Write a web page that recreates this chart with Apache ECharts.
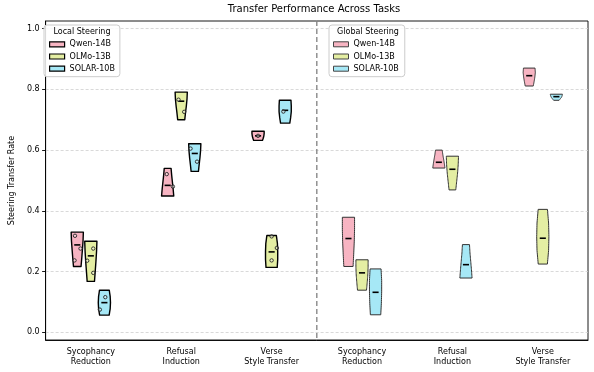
<!DOCTYPE html>
<html>
<head>
<meta charset="utf-8">
<script src="https://cdn.jsdelivr.net/npm/echarts@6/dist/echarts.min.js"></script>
<style>html,body{margin:0;padding:0;background:#fff}#c{width:594px;height:372px}</style>
</head>
<body>
<div id="c"></div>
<script>
// ---------------- DATA ----------------
const chartTitle = 'Transfer Performance Across Tasks';
const yAxisName = 'Steering Transfer Rate';
const categoryKeys = ['L-syc', 'L-ref', 'L-verse', 'G-syc', 'G-ref', 'G-verse'];
const categoryLabels = ['Sycophancy\nReduction', 'Refusal\nInduction', 'Verse\nStyle Transfer',
                        'Sycophancy\nReduction', 'Refusal\nInduction', 'Verse\nStyle Transfer'];
const yTicks = [0.0, 0.2, 0.4, 0.6, 0.8, 1.0];
const models = ['Qwen-14B', 'OLMo-13B', 'SOLAR-10B'];
const localLegendTitle = 'Local Steering';
const globalLegendTitle = 'Global Steering';

// Local steering (per model, per task: Sycophancy, Refusal, Verse)
const localMin    = [[0.217, 0.449, 0.632], [0.168, 0.700, 0.214], [0.057, 0.530, 0.689]];
const localMax    = [[0.330, 0.540, 0.662], [0.300, 0.791, 0.319], [0.139, 0.621, 0.764]];
const localMedian = [[0.288, 0.484, 0.647], [0.252, 0.761, 0.265], [0.098, 0.589, 0.731]];
// relative density (bottom -> top)
const localDensity = [
  [[0.62, 0.74, 0.85, 0.95, 1.0], [1.0, 0.9, 0.78, 0.66, 0.56], [0.72, 0.86, 0.95, 1.0, 1.0]],
  [[0.6, 0.72, 0.84, 0.94, 1.0], [0.58, 0.7, 0.84, 0.95, 1.0], [0.92, 1.0, 1.0, 0.95, 0.78]],
  [[0.78, 0.95, 1.0, 0.95, 0.8], [0.6, 0.72, 0.85, 0.95, 1.0], [0.76, 0.9, 1.0, 1.0, 0.95]]
];
// observed seed points (local only)
const localPoints = [
  [[0.318, 0.276, 0.237], [0.521, 0.480], [0.647]],
  [[0.276, 0.236, 0.196], [0.766, 0.726], [0.316, 0.278, 0.237]],
  [[0.116, 0.075], [0.605, 0.562], [0.727]]
];
const localPointJitter = [
  [[-0.025, 0.036, -0.03], [-0.01, 0.058], [0.0]],
  [[0.027, -0.04, 0.027], [-0.03, 0.033], [0.0, 0.058, 0.0]],
  [[0.01, -0.05], [-0.047, 0.025], [-0.02]]
];

// Global steering
const globalMin    = [[0.217, 0.541, 0.811], [0.139, 0.469, 0.225], [0.058, 0.179, 0.764]];
const globalMax    = [[0.379, 0.600, 0.870], [0.239, 0.580, 0.405], [0.209, 0.289, 0.784]];
const globalMedian = [[0.309, 0.560, 0.845], [0.196, 0.537, 0.310], [0.132, 0.223, 0.776]];
const globalDensity = [
  [[0.76, 0.86, 0.95, 1.0, 1.0], [1.0, 0.9, 0.78, 0.65, 0.55], [0.66, 0.8, 0.92, 1.0, 0.95]],
  [[0.74, 0.85, 0.95, 1.0, 1.0], [0.55, 0.7, 0.85, 0.95, 1.0], [0.75, 0.95, 1.0, 0.95, 0.76]],
  [[0.85, 0.95, 1.0, 1.0, 0.9], [1.0, 0.9, 0.78, 0.66, 0.58], [0.45, 0.65, 0.85, 0.95, 1.0]]
];

// ---------------- STYLE ----------------
const FONT = 'DejaVu Sans';
const colors = ['#F7B4C2', '#E4EEA3', '#A6E8F6'];
const modelOffset = [-0.15, 0, 0.15];
const violinWidth = 0.135;

function interp(profile, t) {
  const n = profile.length - 1;
  const p = t * n;
  const i = Math.min(Math.floor(p), n - 1);
  const f = p - i;
  return profile[i] * (1 - f) + profile[i + 1] * f;
}

function violinRender(density, edgeColor, edgeWidth, mi) {
  return function (params, api) {
    const cat = api.value(0), lo = api.value(1), hi = api.value(2), med = api.value(3), ti = api.value(4);
    const band = api.size([1, 0])[0];
    const cx = api.coord([cat, 0])[0] + modelOffset[mi] * band;
    const halfMax = violinWidth / 2 * band;
    const prof = density[mi][ti];
    const M = 24, left = [], right = [];
    for (let j = 0; j <= M; j++) {
      const t = j / M;
      const y = api.coord([cat, lo + (hi - lo) * t])[1];
      const w = interp(prof, t) * halfMax;
      left.push([cx - w, y]);
      right.push([cx + w, y]);
    }
    const pts = left.concat(right.reverse());
    const my = api.coord([cat, med])[1];
    const ml = violinWidth * 0.25 * band;
    return {
      type: 'group',
      children: [
        { type: 'polygon', shape: { points: pts },
          style: { fill: colors[mi], stroke: edgeColor, lineWidth: edgeWidth, lineJoin: 'round' } },
        { type: 'line', shape: { x1: cx - ml, y1: my, x2: cx + ml, y2: my },
          style: { stroke: '#000', lineWidth: 1.6 } }
      ]
    };
  };
}

const series = [];
// divider
series.push({
  type: 'custom', silent: true, z: 1,
  data: [[2, 0]],
  renderItem: function (params, api) {
    const band = api.size([1, 0])[0];
    const x = api.coord([2, 0])[0] + band / 2;
    const cs = params.coordSys;
    return { type: 'line', shape: { x1: x, y1: cs.y, x2: x, y2: cs.y + cs.height },
      style: { stroke: '#808080', lineWidth: 1.3, lineDash: [5, 3] } };
  }
});
models.forEach(function (m, mi) {
  series.push({
    name: m, type: 'custom', z: 3,
    itemStyle: { color: colors[mi] },
    data: [0, 1, 2].map(ti => [ti, localMin[mi][ti], localMax[mi][ti], localMedian[mi][ti], ti]),
    renderItem: violinRender(localDensity, '#000', 1.4, mi)
  });
});
models.forEach(function (m, mi) {
  series.push({
    name: 'Global ' + m, type: 'custom', z: 3,
    itemStyle: { color: colors[mi] },
    data: [0, 1, 2].map(ti => [ti + 3, globalMin[mi][ti], globalMax[mi][ti], globalMedian[mi][ti], ti]),
    renderItem: violinRender(globalDensity, '#333', 1.0, mi)
  });
});
// points
const pointData = [];
models.forEach(function (m, mi) {
  [0, 1, 2].forEach(function (ti) {
    localPoints[mi][ti].forEach(function (v, k) {
      pointData.push([ti, v, mi, localPointJitter[mi][ti][k]]);
    });
  });
});
series.push({
  type: 'custom', z: 4, silent: true,
  data: pointData,
  renderItem: function (params, api) {
    const cat = api.value(0), v = api.value(1), mi = api.value(2), jit = api.value(3);
    const band = api.size([1, 0])[0];
    const p = api.coord([cat, v]);
    return { type: 'circle', shape: { cx: p[0] + (modelOffset[mi] + jit) * band, cy: p[1], r: 1.7 },
      style: { fill: 'rgba(255,255,255,0.35)', stroke: '#222', lineWidth: 0.9 } };
  }
});

const legendCommon = {
  orient: 'vertical', top: 25, selectedMode: false,
  itemWidth: 15, itemHeight: 5, itemGap: 2.2, icon: 'rect',
  backgroundColor: 'rgba(255,255,255,0.85)', borderColor: '#cccccc', borderWidth: 1, borderRadius: 3,
  textStyle: { fontFamily: FONT, fontSize: 8, color: '#000', lineHeight: 10 }
};

const option = {
  animation: false,
  grid: { left: 40, right: 6, top: 21, bottom: 32, show: true, borderColor: '#000', borderWidth: 0.9, backgroundColor: 'transparent' },
  xAxis: {
    type: 'category', data: categoryKeys,
    axisLine: { onZero: false, lineStyle: { color: '#000', width: 0.9 } },
    axisTick: { alignWithLabel: true, length: 3.5, lineStyle: { color: '#000', width: 0.9 } },
    axisLabel: { formatter: (v, i) => categoryLabels[i], fontFamily: FONT, fontSize: 8, lineHeight: 10, color: '#000', margin: 7 },
    splitLine: { show: false }
  },
  yAxis: {
    type: 'value', min: -0.025, max: 1.025,
    name: yAxisName, nameLocation: 'middle', nameGap: 26, nameRotate: 90,
    nameTextStyle: { fontFamily: FONT, fontSize: 8, color: '#000' },
    axisLine: { show: true, lineStyle: { color: '#000', width: 0.9 } },
    axisTick: { show: true, customValues: yTicks, length: 3.5, lineStyle: { color: '#000', width: 0.9 } },
    axisLabel: { customValues: yTicks, formatter: v => Number(v).toFixed(1), fontFamily: FONT, fontSize: 8, color: '#000', margin: 6 },
    splitLine: { show: true, lineStyle: { color: '#cfcfcf', width: 0.8, type: [3, 2] } }
  },
  legend: [
    Object.assign({}, legendCommon, {
      left: 44, padding: [14.3, 5, 3, 5],
      data: models.map((m, mi) => ({ name: m, itemStyle: { color: colors[mi], borderColor: '#000', borderWidth: 1.2 } }))
    }),
    Object.assign({}, legendCommon, {
      left: 329, padding: [14.3, 6, 3, 4],
      formatter: n => n.replace('Global ', ''),
      data: models.map((m, mi) => ({ name: 'Global ' + m, itemStyle: { color: colors[mi], borderColor: '#444', borderWidth: 1 } }))
    })
  ],
  graphic: [
    { type: 'text', x: 314, y: 9, z: 10, style: { text: chartTitle, fontFamily: FONT, fontSize: 10, fill: '#000', align: 'center', verticalAlign: 'middle' } },
    { type: 'text', x: 82, y: 32, z: 10, style: { text: localLegendTitle, fontFamily: FONT, fontSize: 8, fill: '#000', align: 'center', verticalAlign: 'middle' } },
    { type: 'text', x: 368, y: 32, z: 10, style: { text: globalLegendTitle, fontFamily: FONT, fontSize: 8, fill: '#000', align: 'center', verticalAlign: 'middle' } }
  ],
  series: series
};

const chart = echarts.init(document.getElementById('c'), null, { renderer: 'canvas' });
chart.setOption(option);
</script>
</body>
</html>
